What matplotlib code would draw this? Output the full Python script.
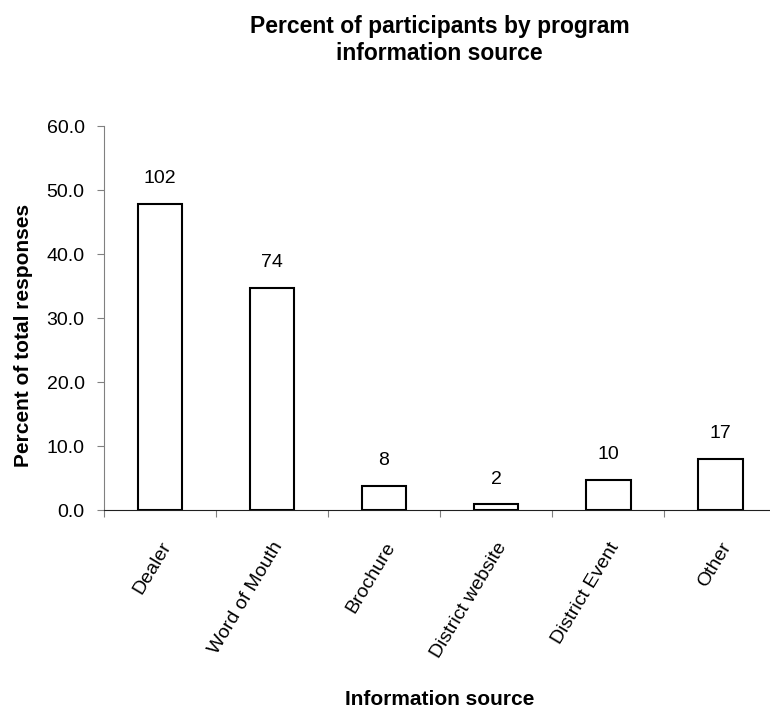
import matplotlib.pyplot as plt
import matplotlib

matplotlib.rcParams['font.family'] = ['Liberation Sans', 'DejaVu Sans']

# data
sources = ['Dealer', 'Word of Mouth', 'Brochure', 'District website', 'District Event', 'Other']
percent = [47.9, 34.7, 3.8, 0.9, 4.7, 8.0]
counts = [102, 74, 8, 2, 10, 17]
yticks = [0, 10, 20, 30, 40, 50, 60]

fig = plt.figure(figsize=(7.7, 7.13), dpi=100)
ax = fig.add_axes([0.135, 0.2847, 0.873, 0.5383])

x = list(range(len(sources)))
ax.bar(x, percent, width=0.4, color='white', edgecolor='black', linewidth=1.5)

# counts above the bars
for xi, p, c in zip(x, percent, counts):
    ax.annotate(str(c), (xi, p), xytext=(0, 12), textcoords='offset points',
                ha='center', va='bottom', fontsize=14)

ax.set_xlim(-0.5, len(sources) - 0.5)
ax.set_ylim(0, 60)
ax.set_yticks(yticks)
ax.set_yticklabels(['%.1f' % v for v in yticks], fontsize=14)

# major ticks on category edges, labels on minor ticks at centres
ax.set_xticks([i - 0.5 for i in range(len(sources) + 1)])
ax.set_xticklabels([])
ax.set_xticks(x, minor=True)
ax.set_xticklabels(sources, minor=True, rotation=59, ha='right',
                   rotation_mode='anchor', fontsize=14)
ax.tick_params(axis='x', which='minor', length=0, pad=21)
ax.tick_params(axis='x', which='major', length=5, color='#808080')
ax.tick_params(axis='y', length=5, color='#808080', pad=9)

ax.spines['top'].set_visible(False)
ax.spines['right'].set_visible(False)
ax.spines['left'].set_color('#808080')
ax.spines['bottom'].set_color('#202020')

fig.text(0.03, 0.53, 'Percent of total responses', rotation=90, ha='center', va='center',
         fontsize=15, fontweight='bold')
fig.text(0.571, 0.011, 'Information source', ha='center', va='baseline',
         fontsize=15, fontweight='bold')
fig.text(0.571, 0.944, 'Percent of participants by program\ninformation source',
         ha='center', va='center', fontsize=16.5, fontweight='bold', linespacing=1.25)

plt.savefig('out.png', dpi=100)
